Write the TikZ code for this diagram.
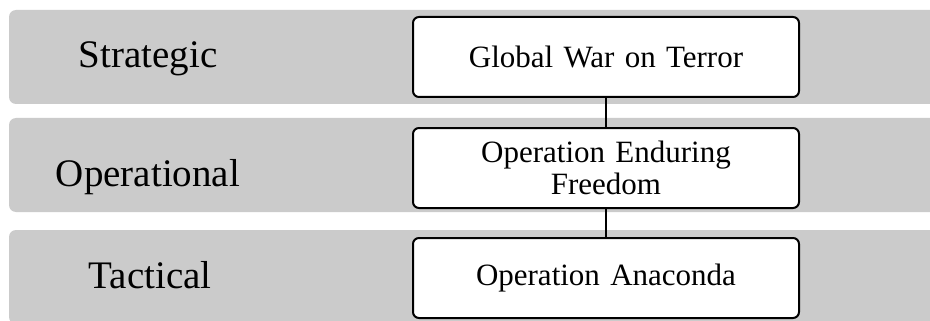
\documentclass[tikz,border=0pt]{standalone}
\usepackage{fontspec}
\setmainfont{Liberation Serif}
\definecolor{bandgrey}{HTML}{CBCBCB}
\tikzset{
  band/.style={fill=bandgrey,rounded corners=7pt,minimum width=941pt,minimum height=94pt,inner sep=0pt},
  level/.style={font=\fontsize{39}{44}\selectfont,anchor=base},
  item/.style={draw,line width=2pt,rounded corners=6pt,fill=white,minimum width=386pt,minimum height=80pt,
    inner sep=0pt,align=center,text width=370pt,font=\fontsize{31}{32}\selectfont}
}
\begin{document}
\begin{tikzpicture}[x=1pt,y=-1pt]
\useasboundingbox (0,0) rectangle (930,321);
\begin{scope}
\clip (0,0) rectangle (930,321);
\node [band] (strategicband) at (479.5,57) {};
\node [band] (operationalband) at (479.5,165) {};
\node [band] (tacticalband) at (479.5,277) {};
\end{scope}
\node [level] (strategic) at (148,68) {Strategic};
\node [level] (operational) at (148,186) {Operational};
\node [level] (tactical) at (150,288) {Tactical};
\node [item] (gwot) at (606,57) {Global War on Terror};
\node [item] (oef) at (606,168) {Operation Enduring\\Freedom};
\node [item] (anaconda) at (606,278) {Operation Anaconda};
\draw [line width=2pt] (gwot) -- (oef);
\draw [line width=2pt] (oef) -- (anaconda);
\end{tikzpicture}
\end{document}
